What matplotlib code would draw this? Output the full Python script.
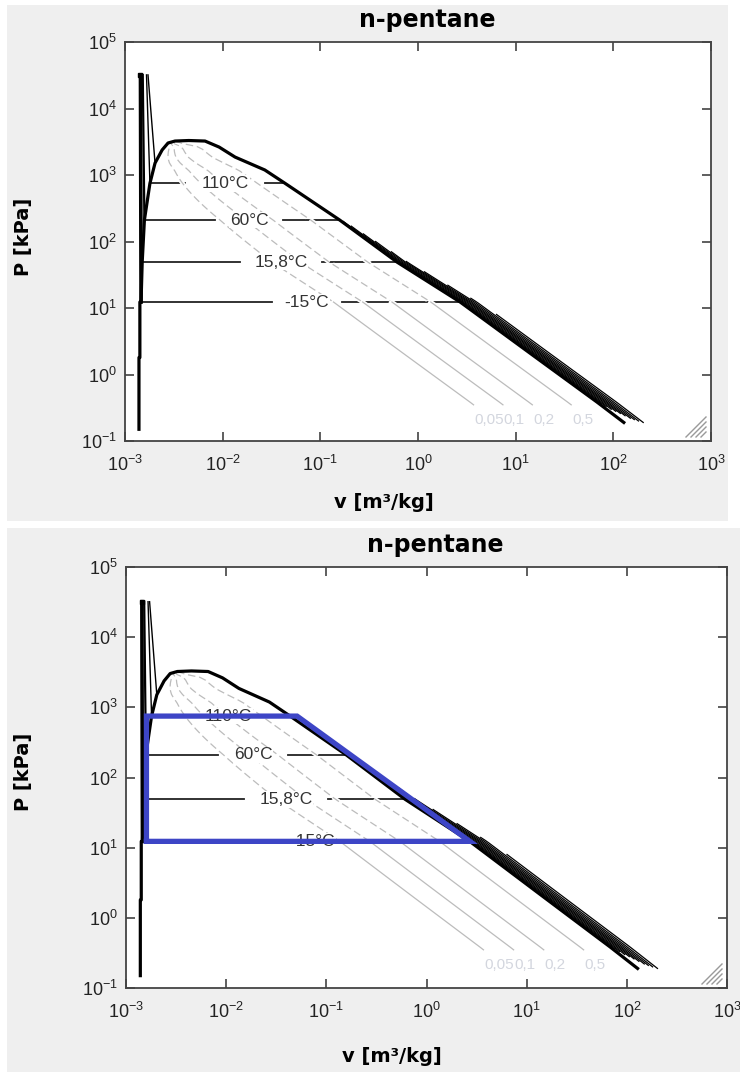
import numpy as np
import matplotlib
matplotlib.use("Agg")
import matplotlib.pyplot as plt
from matplotlib.patches import Rectangle
from matplotlib.lines import Line2D
import matplotlib.patheffects as pe
from matplotlib.ticker import LogLocator, NullLocator, LogFormatterMathtext

plt.rcParams['font.family'] = ['Liberation Sans', 'DejaVu Sans']
plt.rcParams['mathtext.fontset'] = 'custom'
plt.rcParams['mathtext.rm'] = 'Liberation Sans'

# n-pentane saturation line (v in m3/kg, P in kPa)
liq_v = [0.00139, 0.00139, 0.00142, 0.00142, 0.00146, 0.00150, 0.00158, 0.00180, 0.00203, 0.00240, 0.00276]
liq_P = [0.15, 1.8, 1.8, 12.3, 12.3, 49.0, 210.0, 750.0, 1510.0, 2380.0, 3030.0]
crit_v, crit_P = 0.00325, 3240.0
top_v = [0.0045, 0.0066]
top_P = [3300.0, 3240.0]
vap_v = [0.0092, 0.0134, 0.027, 0.0435, 0.158, 0.61, 2.7, 14.9, 68.0, 128.0]
vap_P = [2630.0, 1860.0, 1190.0, 750.0, 210.0, 49.0, 12.3, 1.96, 0.385, 0.19]

# compressed liquid isotherms running up to 32 MPa
cl_v_bot = [0.00146, 0.00158, 0.00180, 0.00203]
cl_v_top = [0.00144, 0.00152, 0.00166, 0.00172]
cl_P_bot = [12.3, 210.0, 750.0, 1510.0]
cl_P_top = 32000.0
cl_lw = [2.6, 1.6, 1.0, 1.0]

# isotherms in the two-phase region
iso_names = ['110°C', '60°C', '15,8°C', '-15°C']
iso_P = [750.0, 210.0, 49.0, 12.3]
iso_label_v = [0.0106, 0.0186, 0.0395, 0.073]
iso_gap = [0.41, 0.35, 0.42, 0.36]   # half gap around the label, decades

# constant quality lines
qual_x = [0.05, 0.1, 0.2, 0.5]
qual_names = ['0,05', '0,1', '0,2', '0,5']
qual_P_end = 0.35
qual_label_P = 0.21

# superheated lines bunched next to the vapour line
band_k = [1.04, 1.08, 1.12, 1.17, 1.22, 1.27, 1.33, 1.40, 1.48, 1.58]
band_P_top = [200.0, 170.0, 130.0, 100.0, 70.0, 50.0, 35.0, 22.0, 14.0, 8.0]
band_P_bot = [0.36, 0.33, 0.30, 0.28, 0.26, 0.24, 0.22, 0.21, 0.20, 0.19]

# Rankine cycle drawn on the lower chart
cyc_v = [0.0016, 0.0016, 0.051, 2.71, 0.0016]
cyc_P = [12.3, 750.0, 750.0, 12.3, 12.3]

vap_tab_P = np.array(vap_P[::-1] + [crit_P])
vap_tab_v = np.array(vap_v[::-1] + [crit_v])
liq_tab_P = np.array(liq_P[4:] + [crit_P])
liq_tab_v = np.array(liq_v[4:] + [crit_v])


def loginterp(p, tp, tv):
    return 10 ** np.interp(np.log10(p), np.log10(tp), np.log10(tv))


def vf(p):
    return loginterp(p, liq_tab_P, liq_tab_v)


def vg(p):
    return loginterp(p, vap_tab_P, vap_tab_v)


def draw_panel(ax, cycle=False):
    ax.set_xscale('log')
    ax.set_yscale('log')
    ax.set_xlim(1e-3, 1e3)
    ax.set_ylim(1e-1, 1e5)

    # isotherms, broken around their labels
    for name, p, lv, g in zip(iso_names, iso_P, iso_label_v, iso_gap):
        ax.plot([vf(p), lv / 10 ** g], [p, p], color='#222222', lw=1.3, zorder=2)
        ax.plot([lv * 10 ** g, vg(p)], [p, p], color='#222222', lw=1.3, zorder=2)
        ax.text(lv, p, name, fontsize=12.5, color='#333333', ha='center', va='center',
                zorder=5, bbox=dict(boxstyle='square,pad=0.05', fc='white', ec='none'))

    # quality lines: dashed inside the isotherm region, solid below it
    halo = [pe.Stroke(linewidth=3.2, foreground='white'), pe.Normal()]
    for x, name in zip(qual_x, qual_names):
        p_hi = np.logspace(np.log10(crit_P), np.log10(iso_P[-1]), 60)
        p_lo = np.logspace(np.log10(iso_P[-1]), np.log10(qual_P_end), 40)
        v_hi = vf(p_hi) + x * (vg(p_hi) - vf(p_hi))
        v_lo = vf(p_lo) + x * (vg(p_lo) - vf(p_lo))
        ax.plot(v_hi, p_hi, color='#bcbcbc', lw=0.9, dashes=(6, 3), zorder=3,
                path_effects=halo)
        ax.plot(v_lo, p_lo, color='#bcbcbc', lw=0.9, zorder=3, path_effects=halo)
        ax.text(v_lo[-1] * 1.02, qual_label_P, name, fontsize=11, color='#d3d6de',
                ha='left', va='center', zorder=5)

    # compressed liquid
    for vb, vt, pb, lw in zip(cl_v_bot, cl_v_top, cl_P_bot, cl_lw):
        ax.plot([vb, vt], [pb, cl_P_top], color='black', lw=lw, zorder=4)
    ax.plot(cl_v_top[0], cl_P_top, 's', color='black', ms=3.5, zorder=4)

    # saturation dome
    dome_v = liq_v + [crit_v] + top_v + vap_v
    dome_P = liq_P + [crit_P] + top_P + vap_P
    ax.plot(dome_v, dome_P, color='black', lw=2.3, zorder=4, solid_joinstyle='round')

    for k, pt, pb in zip(band_k, band_P_top, band_P_bot):
        pp = np.logspace(np.log10(pt), np.log10(pb), 50)
        ax.plot(k * vg(pp), pp, color='black', lw=0.9, zorder=4)

    if cycle:
        ax.plot(cyc_v, cyc_P, color='#3d45c6', lw=3.8, zorder=6,
                solid_joinstyle='miter', solid_capstyle='projecting')

    ax.xaxis.set_major_locator(LogLocator(base=10, numticks=20))
    ax.yaxis.set_major_locator(LogLocator(base=10, numticks=20))
    ax.xaxis.set_minor_locator(NullLocator())
    ax.yaxis.set_minor_locator(NullLocator())
    ax.xaxis.set_major_formatter(LogFormatterMathtext())
    ax.yaxis.set_major_formatter(LogFormatterMathtext())
    ax.tick_params(which='both', direction='in', top=True, right=True, length=6.5,
                   width=1.1, color='#333333', labelsize=13, labelcolor='#222222')
    ax.tick_params(axis='x', pad=10)
    ax.tick_params(axis='y', pad=6)
    for s in ax.spines.values():
        s.set_color('#444444')
        s.set_linewidth(1.3)

    ax.set_title('n-pentane', fontsize=17, fontweight='bold', family='DejaVu Sans',
                 x=0.515, pad=11)
    ax.set_xlabel('v [m³/kg]', fontsize=14, fontweight='bold', family='DejaVu Sans')
    ax.set_ylabel('P [kPa]', fontsize=14, fontweight='bold', family='DejaVu Sans')


W, H = 740, 1072
fig = plt.figure(figsize=(W / 100, H / 100), dpi=100, facecolor='white')

# grey window backgrounds
fig.add_artist(Rectangle((7 / W, 1 - 521 / H), 721 / W, 516 / H, transform=fig.transFigure,
                         fc='#efefef', ec='none', zorder=0))
fig.add_artist(Rectangle((7 / W, 0), 733 / W, 544 / H, transform=fig.transFigure,
                         fc='#efefef', ec='none', zorder=0))

ax1 = fig.add_axes([125 / W, 1 - 441 / H, 586 / W, 399 / H])
ax2 = fig.add_axes([126 / W, 1 - 988 / H, 601 / W, 421 / H])
draw_panel(ax1)
draw_panel(ax2, cycle=True)

ax1.xaxis.set_label_coords(0.442, -0.13)
ax1.yaxis.set_label_coords(-0.157, 0.511)
ax2.xaxis.set_label_coords(0.442, -0.14)
ax2.yaxis.set_label_coords(-0.155, 0.513)

# size grip in the lower right corner of each window
for ax in (ax1, ax2):
    l, b, w, h = ax.get_position().bounds
    xr = (l + w) * W - 5
    yb = b * H + 4
    for j in range(1, 5):
        d = j * 5.0
        fig.add_artist(Line2D([(xr - d) / W, xr / W], [yb / H, (yb + d) / H],
                              transform=fig.transFigure, color='#9a9a9a', lw=1.0))

fig.savefig('out.png', dpi=100, facecolor='white')
